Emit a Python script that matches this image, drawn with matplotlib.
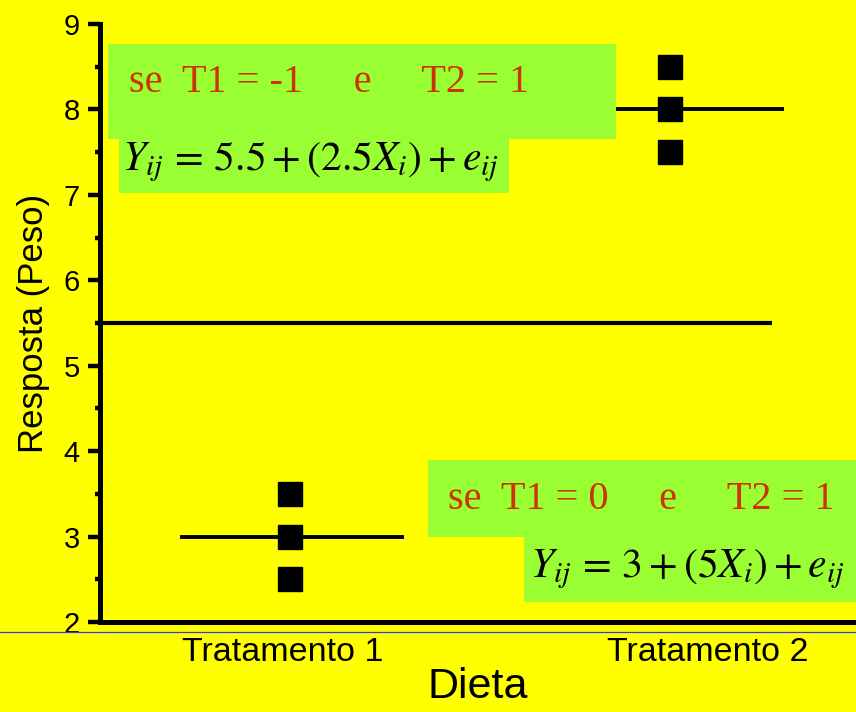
import matplotlib.pyplot as plt
from matplotlib.patches import Rectangle
from matplotlib.lines import Line2D
from matplotlib.ticker import MultipleLocator

########################################################
# DATA
########################################################

GROUPS = ["Tratamento 1", "Tratamento 2"]
GROUP_X = [1, 2]

T1_VALUES = [2.5, 3.0, 3.5]
T2_VALUES = [7.5, 8.0, 8.5]

GROUP_MEANS = [3.0, 8.0]
GRAND_MEAN = 5.5

TEXT_T2 = "se  T1 = -1     e     T2 = 1"
EQ_T2 = r"$Y_{ij}\,=\,5.5+\left(2.5X_{i}\right)+e_{ij}$"
TEXT_T1 = "se  T1 = 0     e     T2 = 1"
EQ_T1 = r"$Y_{ij}\,=\,3+\left(5X_{i}\right)+e_{ij}$"

########################################################
# STYLE
########################################################

W, H = 856, 712
YELLOW = "#ffff00"
GREEN = "#99ff33"
RED = "#cc3300"

plt.rcParams["font.family"] = ["Liberation Sans", "DejaVu Sans"]
plt.rcParams["mathtext.fontset"] = "stix"


def fx(px):
    return px / W


def fy(py):
    return 1 - py / H


########################################################
# FIGURE
########################################################

fig = plt.figure(figsize=(W / 100, H / 100), dpi=100, facecolor=YELLOW)

ax = fig.add_axes([fx(100), fy(622), fx(756), (622 - 24) / H])
ax.set_facecolor(YELLOW)

# grand mean
ax.hlines(GRAND_MEAN, 0.5, 2.27, color="black", linewidth=3, zorder=2)

# group means
for gx, m in zip(GROUP_X, GROUP_MEANS):
    ax.hlines(m, gx - 0.29, gx + 0.3, color="black", linewidth=2.8, zorder=2)

# observations
for gx, vals in zip(GROUP_X, [T1_VALUES, T2_VALUES]):
    ax.plot([gx] * len(vals), vals, linestyle="none", marker="s",
            markersize=17.5, color="black", zorder=3)

ax.set_xlim(0.5, 2.49)
ax.set_ylim(2, 9)

ax.set_xticks([0.98, 2.1])
ax.set_xticklabels(GROUPS, fontsize=24.5)
ax.tick_params(axis="x", length=0, pad=11)

ax.yaxis.set_major_locator(MultipleLocator(1))
ax.yaxis.set_minor_locator(MultipleLocator(0.5))
ax.tick_params(axis="y", which="major", length=8.5, width=3.2,
               labelsize=21, pad=6)
ax.tick_params(axis="y", which="minor", length=3.8, width=3.2)

for side in ["top", "right"]:
    ax.spines[side].set_visible(False)
for side in ["left", "bottom"]:
    ax.spines[side].set_linewidth(3.6)

ax.set_xlabel("Dieta", fontsize=31, labelpad=-1)
ax.set_ylabel("Resposta (Peso)", fontsize=25, labelpad=10)

########################################################
# ANNOTATION BOXES
########################################################

boxes = [
    (108, 44, 616, 139),
    (119, 139, 509, 193),
    (428, 460, 856, 537),
    (524, 537, 856, 602),
]

for x0, y0, x1, y1 in boxes:
    fig.add_artist(Rectangle((fx(x0), fy(y1)), fx(x1 - x0), (y1 - y0) / H,
                             transform=fig.transFigure, facecolor=GREEN,
                             edgecolor="none", zorder=1))

fig.text(fx(129), fy(92), TEXT_T2, fontsize=29, color=RED,
         family="Liberation Serif", va="baseline", zorder=3)
fig.text(fx(122), fy(170), EQ_T2, fontsize=30, color="black",
         va="baseline", zorder=3)

fig.text(fx(448), fy(509), TEXT_T1, fontsize=29, color=RED,
         family="Liberation Serif", va="baseline", zorder=3)
fig.text(fx(530), fy(577), EQ_T1, fontsize=30, color="black",
         va="baseline", zorder=3)

# thin blue rule under the axis
fig.add_artist(Line2D([0, 1], [fy(632), fy(632)], color="#2f3cf0",
                      linewidth=0.9, transform=fig.transFigure, zorder=1))

plt.savefig("out.png", dpi=100, facecolor=YELLOW)
